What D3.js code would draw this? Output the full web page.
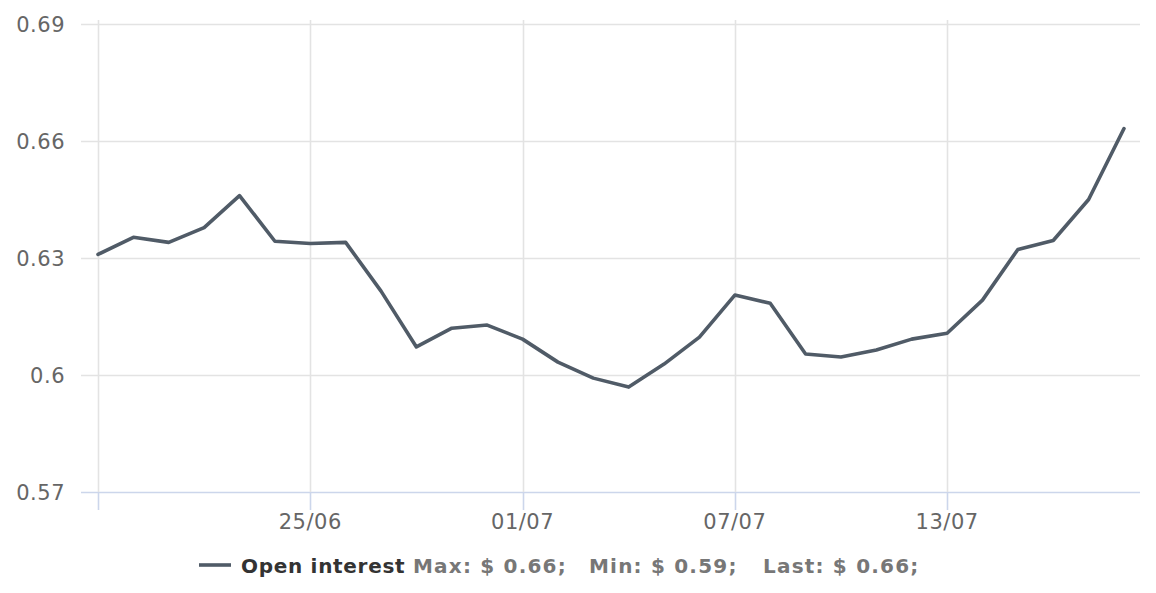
<!DOCTYPE html>
<html><head><meta charset="utf-8">
<script src="https://cdn.jsdelivr.net/npm/d3@7"></script>
<style>body{margin:0;background:#fff}svg{display:block}</style>
</head><body>
<script>
const dates = ["2023-06-19","2023-06-20","2023-06-21","2023-06-22","2023-06-23","2023-06-24","2023-06-25","2023-06-26","2023-06-27","2023-06-28","2023-06-29","2023-06-30","2023-07-01","2023-07-02","2023-07-03","2023-07-04","2023-07-05","2023-07-06","2023-07-07","2023-07-08","2023-07-09","2023-07-10","2023-07-11","2023-07-12","2023-07-13","2023-07-14","2023-07-15","2023-07-16","2023-07-17","2023-07-18"];
const openInterest = [0.6309,0.6353,0.6340,0.6378,0.6460,0.6343,0.6337,0.6340,0.6215,0.6072,0.6120,0.6128,0.6092,0.6033,0.5992,0.5969,0.6028,0.6097,0.6205,0.6184,0.6054,0.6046,0.6064,0.6092,0.6107,0.6192,0.6322,0.6345,0.6450,0.6632];
const yTicks = [0.57,0.6,0.63,0.66,0.69];
const yTickLabels = ["0.57","0.6","0.63","0.66","0.69"];
const xTicks = ["2023-06-19","2023-06-25","2023-07-01","2023-07-07","2023-07-13"];
const xTickLabels = ["","25/06","01/07","07/07","13/07"];
const seriesName = "Open interest";
const legendStats = ["Max: $ 0.66;", "Min: $ 0.59;", "Last: $ 0.66;"];

const W = 1156, H = 593;
const parse = d3.utcParse("%Y-%m-%d");
const data = dates.map((d,i)=>({date:parse(d), v:openInterest[i]}));

const svg = d3.select("body").append("svg").attr("width",W).attr("height",H);
const x = d3.scaleUtc().domain([parse(dates[0]), parse(dates[dates.length-1])]).range([98,1124]);
const y = d3.scaleLinear().domain([0.57,0.69]).range([492,24]);
const font = "'DejaVu Sans', sans-serif";

svg.append("g").selectAll("line").data(yTicks).join("line")
  .attr("x1",81).attr("x2",1140)
  .attr("y1",d=>Math.round(y(d))+0.5).attr("y2",d=>Math.round(y(d))+0.5)
  .attr("stroke",d=>d===0.57?"#ccd6eb":"#e3e3e3").attr("stroke-width",1.6);

svg.append("g").selectAll("line").data(xTicks).join("line")
  .attr("x1",d=>Math.round(x(parse(d)))+0.5).attr("x2",d=>Math.round(x(parse(d)))+0.5)
  .attr("y1",20).attr("y2",492).attr("stroke","#e3e3e3").attr("stroke-width",1.6);
svg.append("g").selectAll("line").data(xTicks).join("line")
  .attr("x1",d=>Math.round(x(parse(d)))+0.5).attr("x2",d=>Math.round(x(parse(d)))+0.5)
  .attr("y1",492).attr("y2",510).attr("stroke","#ccd6eb").attr("stroke-width",1.6);

svg.append("g").selectAll("text").data(yTicks).join("text")
  .attr("x",65).attr("y",d=>y(d)+8).attr("text-anchor","end")
  .attr("font-family",font).attr("font-size",21).attr("fill","#666")
  .attr("letter-spacing",0.5)
  .text((d,i)=>yTickLabels[i]);

svg.append("g").selectAll("text").data(xTicks).join("text")
  .attr("x",d=>x(parse(d))).attr("y",529).attr("text-anchor","middle")
  .attr("font-family",font).attr("font-size",21).attr("fill","#666")
  .attr("letter-spacing",0.5)
  .text((d,i)=>xTickLabels[i]);

svg.append("path").datum(data)
  .attr("fill","none").attr("stroke","#505b67").attr("stroke-width",3.6)
  .attr("stroke-linejoin","round").attr("stroke-linecap","round")
  .attr("d",d3.line().x(d=>x(d.date)).y(d=>y(d.v)));

const lg = svg.append("g");
lg.append("line").attr("x1",199).attr("x2",231).attr("y1",565).attr("y2",565)
  .attr("stroke","#505b67").attr("stroke-width",3.6);
lg.append("text").attr("x",241).attr("y",573)
  .attr("font-family",font).attr("font-size",20).attr("font-weight","bold")
  .attr("fill","#333").attr("letter-spacing",0.7).text(seriesName);
const statX = [413, 589, 763];
lg.append("g").selectAll("text").data(legendStats).join("text")
  .attr("x",(d,i)=>statX[i]).attr("y",573)
  .attr("font-family",font).attr("font-size",20).attr("font-weight","bold")
  .attr("fill","#777").attr("letter-spacing",1.2).text(d=>d);
</script>
</body></html>
